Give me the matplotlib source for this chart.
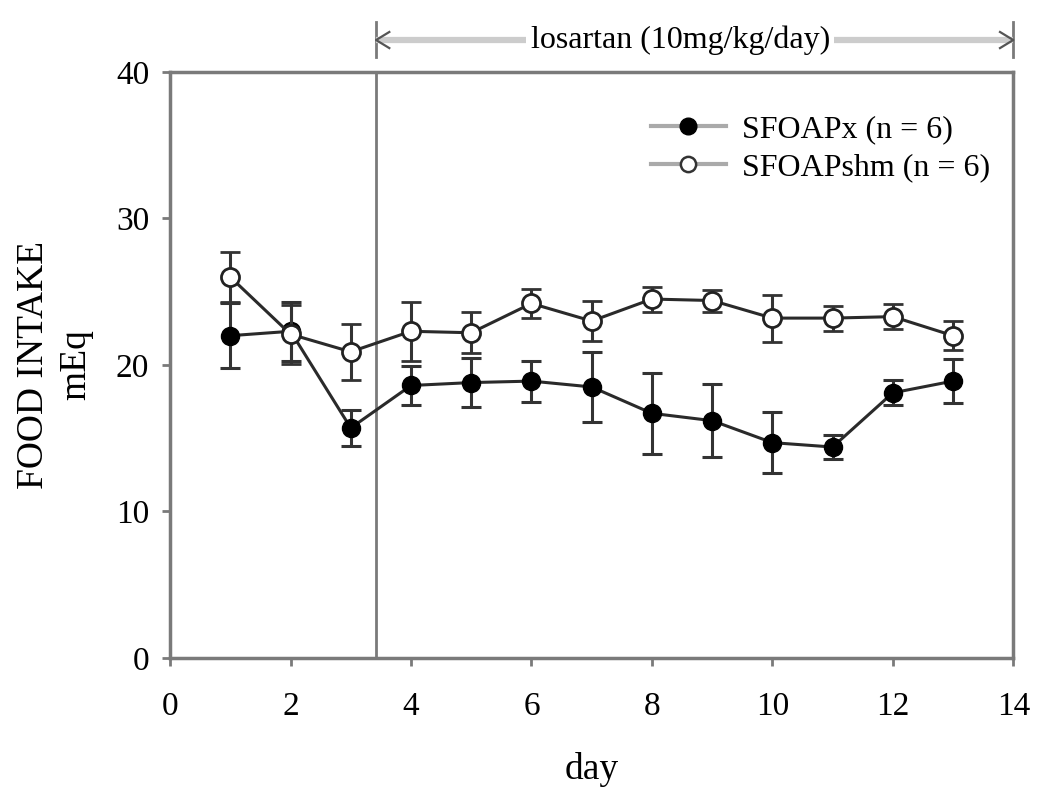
import numpy as np
import matplotlib
matplotlib.use("Agg")
import matplotlib.pyplot as plt
from matplotlib.lines import Line2D

plt.rcParams['font.family'] = ['Liberation Serif', 'DejaVu Serif']

days = [1, 2, 3, 4, 5, 6, 7, 8, 9, 10, 11, 12, 13]

# SFOAPx (filled)
apx_mean = [22.0, 22.3, 15.7, 18.6, 18.8, 18.9, 18.5, 16.7, 16.2, 14.7, 14.4, 18.1, 18.9]
apx_err = [2.2, 2.0, 1.2, 1.3, 1.7, 1.4, 2.4, 2.75, 2.5, 2.1, 0.85, 0.85, 1.5]

# SFOAPshm (open)
shm_mean = [26.0, 22.1, 20.9, 22.3, 22.2, 24.2, 23.0, 24.5, 24.4, 23.2, 23.2, 23.3, 22.0]
shm_err = [1.7, 2.0, 1.9, 2.0, 1.4, 1.0, 1.35, 0.85, 0.75, 1.6, 0.85, 0.83, 1.0]

losartan_start = 3.42
losartan_end = 14
arrow_y = 42.18

fig = plt.figure(figsize=(10.5, 7.97), dpi=100)
ax = fig.add_axes([0.162, 0.1744, 0.803, 0.7353])

grey = '#7a7a7a'
ax.errorbar(days, apx_mean, yerr=apx_err, color='#2a2a2a', ecolor='#333333',
            elinewidth=2.2, capsize=7, capthick=2.2, lw=2.2,
            marker='o', ms=13, mfc='black', mec='black', zorder=3)
ax.errorbar(days, shm_mean, yerr=shm_err, color='#2a2a2a', ecolor='#333333',
            elinewidth=2.2, capsize=7, capthick=2.2, lw=2.2,
            marker='o', ms=13, mfc='white', mec='#222222', mew=2, zorder=4)

ax.set_xlim(0, 14)
ax.set_ylim(0, 40)
ax.set_xticks(np.arange(0, 15, 2))
ax.set_yticks(np.arange(0, 41, 10))
ax.tick_params(direction='out', length=6, width=2, color=grey, labelsize=24)
ax.tick_params(axis='x', pad=18)
ax.tick_params(axis='y', pad=9)
for s in ax.spines.values():
    s.set_color(grey)
    s.set_linewidth(2.5)

# losartan period
ax.plot([losartan_start, losartan_start], [0, 40], color=grey, lw=2, zorder=2)
for xe in (losartan_start, losartan_end):
    ax.plot([xe, xe], [41.0, 43.4], color=grey, lw=2, clip_on=False)
ax.plot([losartan_start, losartan_end], [arrow_y, arrow_y],
        color='#cccccc', lw=4.5, clip_on=False, solid_capstyle='butt')
# small open arrow heads
dx, dy = 0.22, 0.55
for xe, sgn in ((losartan_start, 1), (losartan_end, -1)):
    ax.plot([xe + sgn * dx, xe, xe + sgn * dx], [arrow_y + dy, arrow_y, arrow_y - dy],
            color='#555555', lw=1.6, clip_on=False)
ax.text(8.47, arrow_y, 'losartan (10mg/kg/day)',
        ha='center', va='center', fontsize=23,
        bbox=dict(facecolor='white', edgecolor='none', pad=3), clip_on=False)

ax.set_xlabel('day', fontsize=27, labelpad=22)
ax.set_ylabel('FOOD INTAKE\nmEq', fontsize=27, labelpad=16, linespacing=1.3)

handles = [
    Line2D([], [], color='#aaaaaa', lw=3, marker='o', ms=12, mfc='black', mec='black'),
    Line2D([], [], color='#aaaaaa', lw=3, marker='o', ms=11, mfc='white', mec='#333333', mew=1.8),
]
ax.legend(handles, ['SFOAPx (n = 6)', 'SFOAPshm (n = 6)'], loc='upper left',
          bbox_to_anchor=(0.555, 0.948), frameon=False, fontsize=23,
          handlelength=2.35, handletextpad=0.5, labelspacing=0.25,
          borderaxespad=0)

fig.savefig('out.png', dpi=100)
